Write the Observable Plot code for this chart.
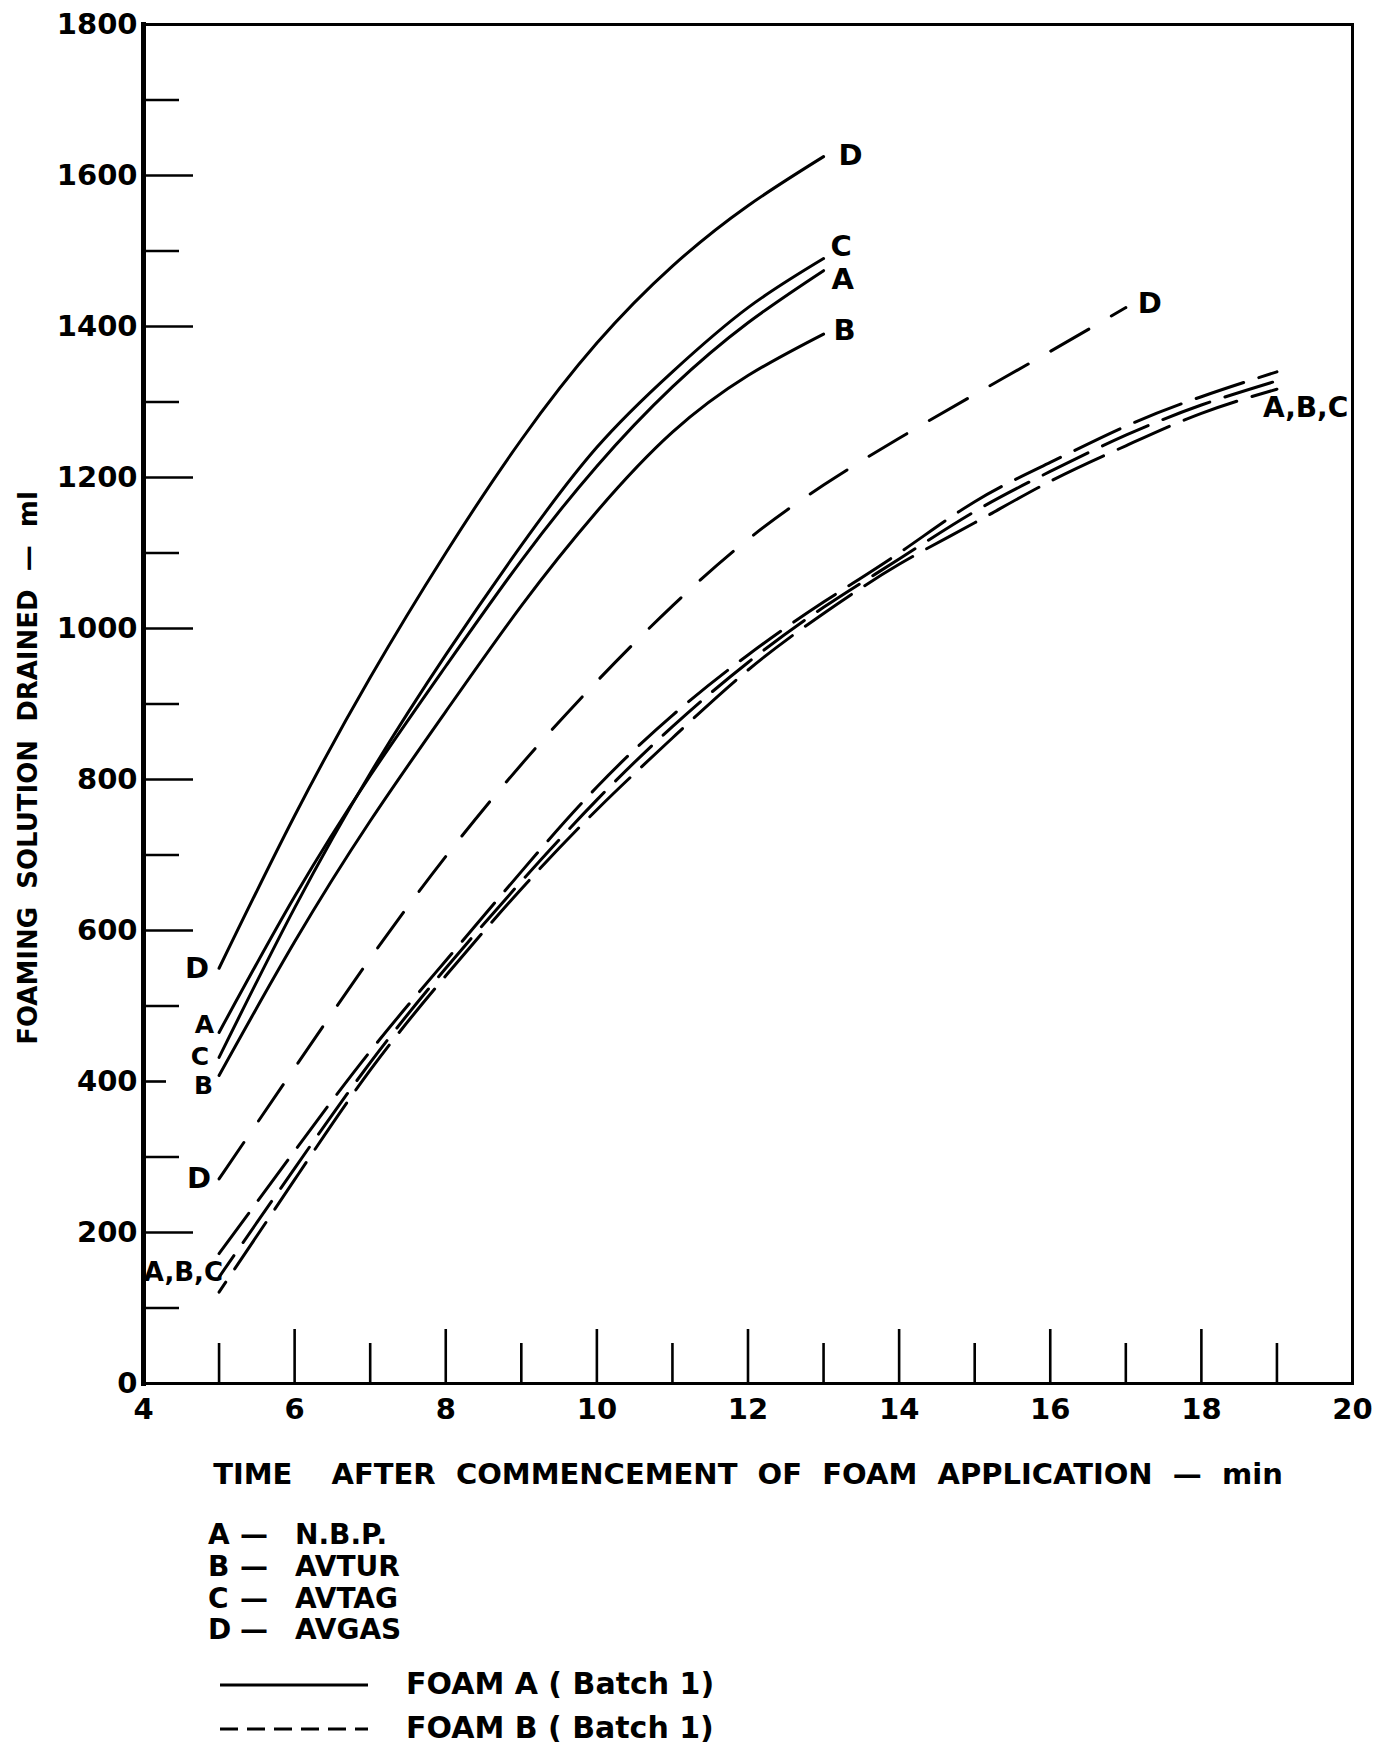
<!DOCTYPE html>
<html>
<head>
<meta charset="utf-8">
<script src="https://cdn.jsdelivr.net/npm/d3@7"></script>
<script src="https://cdn.jsdelivr.net/npm/@observablehq/plot@0.6"></script>
<style>
  body { margin: 0; background: #fff; }
  #wrap { position: relative; width: 1383px; height: 1745px; background: #fff; color: #000;
          font-family: "DejaVu Sans", sans-serif; font-weight: bold; }
  #chart { position: absolute; left: 0; top: 0; }
  .lg { position: absolute; white-space: pre; line-height: 32px; font-size: 28px; }
  .fl { position: absolute; white-space: pre; line-height: 36px; font-size: 30px; }
  #samples { position: absolute; left: 0; top: 0; }
</style>
</head>
<body>
<div id="wrap">
  <div id="chart"></div>
  <div id="legend"></div>
</div>
<script>
// ---------- data ----------
const fuelCodes = ["A", "B", "C", "D"];
const fuelNames = ["N.B.P.", "AVTUR", "AVTAG", "AVGAS"];

// Foam A (Batch 1) — solid lines
const timesFoamA = [5, 6, 7, 8, 9, 10, 11, 12, 13];
const foamA_NBP   = [465, 645, 805, 950, 1090, 1215, 1320, 1405, 1474];
const foamA_AVTUR = [408, 585, 745, 890, 1030, 1155, 1260, 1335, 1390];
const foamA_AVTAG = [432, 630, 808, 965, 1110, 1240, 1340, 1425, 1490];
const foamA_AVGAS = [550, 752, 935, 1100, 1250, 1378, 1480, 1560, 1625];

// Foam B (Batch 1) — dashed lines
const timesFoamB = [5, 6, 7, 8, 9, 10, 11, 12, 13, 14, 15, 16, 17, 18, 19];
const foamB_AVTAG = [172, 308, 440, 560, 678, 790, 885, 965, 1035, 1100, 1168, 1220, 1268, 1307, 1340];
const foamB_NBP   = [141, 285, 425, 550, 665, 773, 870, 955, 1028, 1092, 1155, 1208, 1256, 1296, 1328];
const foamB_AVTUR = [121, 270, 415, 540, 655, 760, 855, 945, 1020, 1085, 1140, 1195, 1242, 1285, 1317];
const timesFoamB_AVGAS = [5, 6, 7, 8, 9, 10, 11, 12, 13, 14, 15, 16, 17];
const foamB_AVGAS = [271, 418, 563, 698, 820, 930, 1030, 1118, 1190, 1252, 1310, 1367, 1425];

// axes
const xTickLabels = [4, 6, 8, 10, 12, 14, 16, 18, 20];
const xMinorTicks = [5, 7, 9, 11, 13, 15, 17, 19];
const yTickLabels = [0, 200, 400, 600, 800, 1000, 1200, 1400, 1600, 1800];
const yMinorTicks = [100, 300, 500, 700, 900, 1100, 1300, 1500, 1700];
const xTitle = "TIME\u2003 AFTER\u00a0\u00a0COMMENCEMENT\u00a0\u00a0OF\u00a0\u00a0FOAM\u00a0\u00a0APPLICATION\u00a0\u00a0\u2014\u00a0\u00a0min";
const yTitle = "FOAMING\u00a0\u00a0SOLUTION\u00a0\u00a0DRAINED\u00a0\u00a0\u2014\u00a0\u00a0ml";
const foamNames = ["FOAM A ( Batch 1)", "FOAM B ( Batch 1)"];

// ---------- build tables ----------
function rows(times, values, fuel, foam) {
  return times.map((t, i) => ({t, v: values[i], fuel, foam}));
}
const solidSeries = [
  rows(timesFoamA, foamA_AVGAS, "D", "A"),
  rows(timesFoamA, foamA_AVTAG, "C", "A"),
  rows(timesFoamA, foamA_NBP, "A", "A"),
  rows(timesFoamA, foamA_AVTUR, "B", "A")
];
const dashedD = rows(timesFoamB_AVGAS, foamB_AVGAS, "D", "B");
const dashedTop = rows(timesFoamB, foamB_AVTAG, "C", "B");
const dashedMid = rows(timesFoamB, foamB_NBP, "A", "B");
const dashedBot = rows(timesFoamB, foamB_AVTUR, "B", "B");

const first = s => s[0];
const last = s => s[s.length - 1];

// label styling (offsets in pixels from the curve ends)
const endLabels = [
  {p: last(solidSeries[0]), text: "D", dx: 15, dy: -1, size: 29},
  {p: last(solidSeries[1]), text: "C", dx: 7, dy: -12, size: 29},
  {p: last(solidSeries[2]), text: "A", dx: 8, dy: 9, size: 29},
  {p: last(solidSeries[3]), text: "B", dx: 10, dy: -3, size: 29},
  {p: last(dashedD), text: "D", dx: 12, dy: -4, size: 29},
  {p: last(dashedMid), text: "A,B,C", dx: -14, dy: 27, size: 28}
];
const startLabels = [
  {p: first(solidSeries[0]), text: "D", dx: -10, dy: 0, size: 29},
  {p: first(solidSeries[2]), text: "A", dx: -5, dy: -7, size: 25},
  {p: first(solidSeries[1]), text: "C", dx: -10, dy: 0, size: 25},
  {p: first(solidSeries[3]), text: "B", dx: -6, dy: 11, size: 25},
  {p: first(dashedD), text: "D", dx: -8, dy: 0, size: 29},
  {p: first(dashedMid), text: "A,B,C", dx: 4, dy: -4, size: 26}
];

const H = 1500;
const LW = 3;
const font = "'DejaVu Sans', sans-serif";

const labelMarks = (list, anchor) => list.map(l => Plot.text([l.p], {
  x: "t", y: "v", text: () => l.text, textAnchor: anchor, dx: l.dx, dy: l.dy,
  fontSize: l.size, fontWeight: "bold", fill: "black"
}));

const chart = Plot.plot({
  width: 1383,
  height: H,
  marginTop: 24,
  marginLeft: 143,
  marginRight: 31,
  marginBottom: H - 1383,
  x: {domain: [4, 20]},
  y: {domain: [0, 1800]},
  style: {fontFamily: font, fontWeight: "bold", color: "black", background: "white", overflow: "visible"},
  marks: [
    // tick labels
    Plot.axisX({ticks: xTickLabels, tickSize: 0, tickPadding: 15, fontSize: 29, fontWeight: "bold", tickFormat: d3.format("d"), label: null}),
    Plot.axisY({ticks: yTickLabels, tickSize: 0, tickPadding: 6, fontSize: 29, fontWeight: "bold", tickFormat: d3.format("d"), label: null}),
    // inward ticks
    Plot.axisX({ticks: xTickLabels, tickSize: -54, strokeWidth: 2.6, tickFormat: () => "", label: null}),
    Plot.axisX({ticks: xMinorTicks, tickSize: -40, strokeWidth: 2.6, tickFormat: () => "", label: null}),
    Plot.axisY({ticks: yTickLabels.filter(v => v !== 400), tickSize: -50, strokeWidth: 2.6, tickFormat: () => "", label: null}),
    Plot.axisY({ticks: yTickLabels.filter(v => v === 400), tickSize: -23, strokeWidth: 2.6, tickFormat: () => "", label: null}),
    Plot.axisY({ticks: yMinorTicks, tickSize: -36, strokeWidth: 2.6, tickFormat: () => "", label: null}),
    // frame
    Plot.frame({strokeWidth: 3}),
    Plot.frame({anchor: "left", strokeWidth: 5}),
    // Foam A solid lines
    ...solidSeries.map(s => Plot.line(s, {x: "t", y: "v", curve: "natural", stroke: "black", strokeWidth: LW})),
    // Foam B dashed lines
    Plot.line(dashedD, {x: "t", y: "v", curve: "natural", stroke: "black", strokeWidth: LW, strokeDasharray: "44,26"}),
    Plot.line(dashedTop, {x: "t", y: "v", curve: "natural", stroke: "black", strokeWidth: LW, strokeDasharray: "50,16", strokeDashoffset: 0}),
    Plot.line(dashedMid, {x: "t", y: "v", curve: "natural", stroke: "black", strokeWidth: LW, strokeDasharray: "50,16", strokeDashoffset: 24}),
    Plot.line(dashedBot, {x: "t", y: "v", curve: "natural", stroke: "black", strokeWidth: LW, strokeDasharray: "56,16", strokeDashoffset: 44}),
    // curve labels
    ...labelMarks(endLabels, "start"),
    ...labelMarks(startLabels, "end"),
    // axis titles
    Plot.text([xTitle], {frameAnchor: "bottom", textAnchor: "middle", lineAnchor: "middle", dy: 91, text: d => d, fontSize: 29, fontWeight: "bold", fill: "black"}),
    Plot.text([yTitle], {frameAnchor: "left", textAnchor: "middle", lineAnchor: "middle", dx: -115, dy: 64, rotate: -90, text: d => d, fontSize: 26, fontWeight: "bold", fill: "black"})
  ]
});
document.getElementById("chart").appendChild(chart);

// ---------- legend (below the SVG) ----------
const legend = document.getElementById("legend");
const rowTops = [1519, 1551, 1583, 1614];
fuelCodes.forEach((c, i) => {
  const a = document.createElement("div"); a.className = "lg"; a.style.left = "208px"; a.style.top = rowTops[i] + "px"; a.textContent = c;
  const d = document.createElement("div"); d.className = "lg"; d.style.left = "240px"; d.style.top = rowTops[i] + "px"; d.textContent = "\u2014";
  const n = document.createElement("div"); n.className = "lg"; n.style.left = "295px"; n.style.top = rowTops[i] + "px"; n.textContent = fuelNames[i];
  legend.append(a, d, n);
});
const foamTops = [1666, 1710];
foamNames.forEach((f, i) => {
  const t = document.createElement("div"); t.className = "fl"; t.style.left = "406px"; t.style.top = foamTops[i] + "px"; t.textContent = f;
  legend.append(t);
});
const ns = "http://www.w3.org/2000/svg";
const svg = document.createElementNS(ns, "svg");
svg.setAttribute("id", "samples"); svg.setAttribute("width", 1383); svg.setAttribute("height", 1745);
svg.style.pointerEvents = "none";
[[1685, null], [1729, "18,9"]].forEach(([y, dash]) => {
  const l = document.createElementNS(ns, "line");
  l.setAttribute("x1", 220); l.setAttribute("x2", 368); l.setAttribute("y1", y); l.setAttribute("y2", y);
  l.setAttribute("stroke", "black"); l.setAttribute("stroke-width", 3);
  if (dash) l.setAttribute("stroke-dasharray", dash);
  svg.appendChild(l);
});
legend.appendChild(svg);
</script>
</body>
</html>
